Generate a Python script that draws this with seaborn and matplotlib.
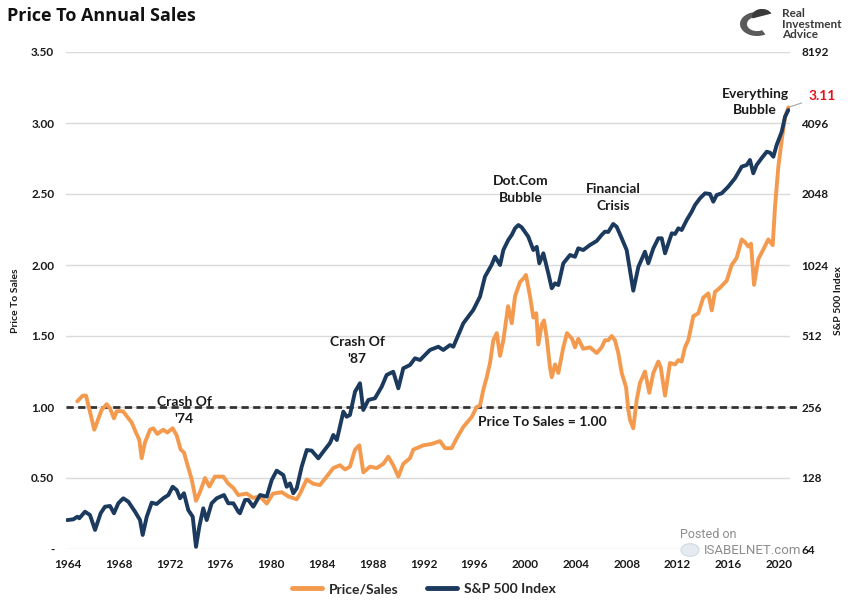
import matplotlib
matplotlib.use("Agg")
import matplotlib.pyplot as plt
import seaborn as sns
import pandas as pd
from matplotlib.lines import Line2D
from matplotlib.patches import Circle, Wedge

# ---------------- data ----------------
ps_years = [1964.73, 1965.16, 1965.42, 1966.07, 1966.65, 1967.05, 1967.31, 1967.62, 1967.83, 1968.33,
            1969.02, 1969.35, 1969.61, 1969.80, 1970.06, 1970.46, 1970.72, 1971.03, 1971.50, 1971.82,
            1972.24, 1972.56, 1972.87, 1973.13, 1973.35, 1973.74, 1974.08, 1974.39, 1974.79, 1975.13,
            1975.57, 1976.23, 1976.62, 1977.02, 1977.41, 1978.07, 1978.57, 1979.12, 1979.65, 1980.14,
            1980.83, 1981.35, 1982.01, 1982.27, 1982.80, 1983.29, 1983.84, 1984.37, 1984.89, 1985.42,
            1985.81, 1986.20, 1986.60, 1986.94, 1987.25, 1987.78, 1988.31, 1988.83, 1989.22, 1989.61,
            1990.01, 1990.40, 1990.93, 1991.19, 1991.98, 1992.64, 1993.29, 1993.69, 1994.21, 1994.61,
            1995.13, 1995.79, 1996.18, 1996.44, 1996.70, 1996.97, 1997.23, 1997.49, 1997.76, 1998.02,
            1998.28, 1998.65, 1998.94, 1999.20, 1999.59, 1999.91, 2000.06, 2000.38, 2000.64, 2000.87,
            2001.03, 2001.30, 2001.48, 2001.69, 2001.95, 2002.09, 2002.35, 2002.61, 2003.00, 2003.29,
            2003.69, 2003.92, 2004.18, 2004.57, 2005.10, 2005.63, 2006.02, 2006.28, 2006.54, 2006.81,
            2007.07, 2007.33, 2007.60, 2007.94, 2008.12, 2008.25, 2008.51, 2008.78, 2009.04, 2009.43,
            2009.77, 2010.09, 2010.48, 2010.67, 2011.01, 2011.40, 2011.80, 2012.06, 2012.32, 2012.58,
            2012.84, 2013.24, 2013.63, 2014.02, 2014.42, 2014.69, 2014.94, 2015.34, 2015.87, 2016.26,
            2016.65, 2017.05, 2017.31, 2017.57, 2017.78, 2018.02, 2018.35, 2018.75, 2019.14, 2019.49,
            2019.67, 2019.93, 2020.20, 2020.46, 2020.72]
ps_values = [1.04, 1.08, 1.08, 0.84, 0.98, 1.02, 0.99, 0.92, 0.97, 0.97,
             0.89, 0.82, 0.77, 0.64, 0.75, 0.84, 0.85, 0.81, 0.84, 0.82,
             0.85, 0.80, 0.70, 0.68, 0.61, 0.49, 0.34, 0.40, 0.50, 0.44,
             0.51, 0.51, 0.46, 0.43, 0.38, 0.39, 0.36, 0.37, 0.32, 0.39,
             0.40, 0.37, 0.35, 0.39, 0.49, 0.46, 0.45, 0.51, 0.57, 0.59,
             0.56, 0.58, 0.70, 0.73, 0.54, 0.58, 0.57, 0.60, 0.65, 0.59,
             0.51, 0.60, 0.64, 0.70, 0.73, 0.74, 0.76, 0.71, 0.71, 0.78,
             0.86, 0.93, 1.00, 1.01, 1.12, 1.21, 1.31, 1.47, 1.52, 1.36,
             1.47, 1.71, 1.59, 1.78, 1.88, 1.91, 1.93, 1.78, 1.63, 1.66,
             1.44, 1.58, 1.61, 1.49, 1.28, 1.21, 1.30, 1.24, 1.42, 1.52,
             1.48, 1.42, 1.48, 1.41, 1.42, 1.38, 1.42, 1.47, 1.47, 1.50,
             1.47, 1.38, 1.24, 1.14, 0.98, 0.91, 0.85, 1.05, 1.17, 1.25,
             1.10, 1.24, 1.32, 1.28, 1.08, 1.31, 1.30, 1.33, 1.32, 1.42,
             1.47, 1.64, 1.66, 1.77, 1.80, 1.68, 1.81, 1.84, 1.89, 2.00,
             2.05, 2.18, 2.16, 2.13, 2.15, 1.86, 2.04, 2.11, 2.18, 2.14,
             2.41, 2.69, 2.88, 3.04, 3.11]

spx_years = [1963.94, 1964.42, 1964.73, 1964.89, 1965.34, 1965.73, 1966.13, 1966.57, 1966.91, 1967.31,
             1967.62, 1967.96, 1968.35, 1968.75, 1969.28, 1969.67, 1969.88, 1970.20, 1970.59, 1970.98,
             1971.50, 1971.90, 1972.24, 1972.56, 1972.82, 1973.13, 1973.47, 1973.82, 1974.08, 1974.34,
             1974.65, 1974.92, 1975.31, 1975.71, 1976.28, 1976.62, 1977.02, 1977.41, 1977.54, 1977.94,
             1978.20, 1978.59, 1979.12, 1979.65, 1980.04, 1980.43, 1980.95, 1981.22, 1981.48, 1981.74,
             1982.01, 1982.40, 1982.80, 1983.19, 1983.71, 1984.10, 1984.63, 1984.89, 1985.17, 1985.68,
             1985.94, 1986.20, 1986.60, 1986.99, 1987.25, 1987.65, 1988.17, 1988.70, 1989.09, 1989.61,
             1990.01, 1990.40, 1990.93, 1991.32, 1991.72, 1992.50, 1993.16, 1993.55, 1994.08, 1994.34,
             1994.73, 1995.13, 1995.91, 1996.44, 1996.83, 1997.35, 1997.62, 1998.02, 1998.28, 1998.67,
             1998.94, 1999.20, 1999.46, 1999.72, 2000.24, 2000.64, 2000.91, 2001.11, 2001.43, 2001.82,
             2002.09, 2002.35, 2002.61, 2003.00, 2003.53, 2003.92, 2004.18, 2004.57, 2005.10, 2005.63,
             2006.02, 2006.28, 2006.54, 2006.93, 2007.20, 2007.60, 2007.99, 2008.25, 2008.51, 2008.91,
             2009.43, 2009.69, 2010.09, 2010.48, 2010.75, 2011.01, 2011.54, 2011.80, 2012.06, 2012.32,
             2012.72, 2013.11, 2013.37, 2013.76, 2014.16, 2014.55, 2014.81, 2015.08, 2015.47, 2015.99,
             2016.52, 2017.05, 2017.44, 2017.70, 2017.96, 2018.22, 2018.61, 2019.02, 2019.28, 2019.54,
             2019.80, 2020.20, 2020.46, 2020.72]
spx_values = [84.9, 85.5, 87.7, 86.4, 92.1, 89.2, 77.1, 90.7, 96.7, 97.4,
              90.7, 100.0, 105.0, 101.6, 92.1, 84.9, 73.4, 87.7, 100.6, 99.3,
              105.0, 108.4, 117.5, 113.8, 105.0, 110.3, 93.6, 87.7, 65.4, 79.6,
              95.2, 84.9, 100.0, 105.0, 108.4, 100.0, 100.0, 92.1, 90.7, 103.3,
              103.3, 96.7, 108.4, 106.7, 125.5, 137.5, 131.8, 117.5, 121.5, 110.3,
              115.8, 142.9, 168.2, 167.2, 155.1, 165.5, 180.1, 194.8, 185.5, 244.6,
              232.8, 236.8, 297.2, 322.8, 248.7, 274.2, 278.8, 312.1, 350.0, 361.2,
              307.2, 373.5, 385.8, 411.9, 405.0, 446.7, 461.1, 446.7, 468.7, 461.1,
              517.0, 580.1, 660.0, 751.6, 913.4, 1024, 1110, 1024, 1185, 1308,
              1373, 1465, 1513, 1480, 1351, 1185, 1222, 1041, 1148, 944,
              816, 856, 842, 1041, 1129, 1110, 1205, 1185, 1245, 1295,
              1373, 1418, 1414, 1528, 1488, 1329, 1185, 975, 797, 1005,
              1166, 1041, 1205, 1329, 1329, 1148, 1395, 1387, 1465, 1441,
              1589, 1723, 1839, 1963, 2062, 2048, 1900, 2028, 2062, 2200,
              2388, 2675, 2718, 2854, 2507, 2718, 2902, 3095, 3065, 2947,
              3305, 3762, 4358, 4649]

x_ticks = list(range(1964, 2021, 4))
left_ticks = [0, 0.5, 1.0, 1.5, 2.0, 2.5, 3.0, 3.5]
left_tick_labels = ["-", "0.50", "1.00", "1.50", "2.00", "2.50", "3.00", "3.50"]
right_ticks = [64, 128, 256, 512, 1024, 2048, 4096, 8192]

ps_df = pd.DataFrame({"year": ps_years, "value": ps_values})
spx_df = pd.DataFrame({"year": spx_years, "value": spx_values})

# ---------------- style ----------------
sns.set_theme(style="white")
plt.rcParams["font.family"] = ["Lato", "DejaVu Sans"]

ORANGE = "#F39A4F"
NAVY = "#1B3A5E"
TXT = "#1a1a1a"

W, H = 848, 600
fig = plt.figure(figsize=(W / 100, H / 100), dpi=100)
fig.patch.set_facecolor("white")

L, R, T, B = 66, 790, 52, 549
ax = fig.add_axes([L / W, 1 - B / H, (R - L) / W, (B - T) / H])
ax2 = ax.twinx()

sns.lineplot(data=ps_df, x="year", y="value", ax=ax, color=ORANGE, lw=2.8,
             estimator=None, sort=False, legend=False)
sns.lineplot(data=spx_df, x="year", y="value", ax=ax2, color=NAVY, lw=2.8,
             estimator=None, sort=False, legend=False)

xmin = 1964 - 2 / 12.7
xmax = 1964 + (R - 68) / 12.7
ax.set_xlim(xmin, xmax)
ax.set_ylim(0, 3.5)
ax2.set_yscale("log", base=2)
ax2.set_ylim(64, 8192)

ax.set_yticks(left_ticks)
ax.set_yticklabels(left_tick_labels)
ax2.set_yticks(right_ticks)
ax2.set_yticklabels([str(v) for v in right_ticks])
ax2.minorticks_off()
ax.set_xticks(x_ticks)
ax.set_xticklabels([str(v) for v in x_ticks])

ax.grid(axis="y", color="#D9D9D9", lw=1.0)
ax.grid(axis="x", visible=False)
ax2.grid(False)
for a in (ax, ax2):
    for s in a.spines.values():
        s.set_visible(False)
    a.set_facecolor("none")

ax.tick_params(axis="y", length=0, pad=8.5, labelsize=8.5, labelcolor=TXT)
ax.tick_params(axis="x", length=0, pad=7, labelsize=8.5, labelcolor=TXT)
ax2.tick_params(axis="y", length=0, pad=8, labelsize=8.5, labelcolor=TXT)
for lab in ax.get_yticklabels() + ax.get_xticklabels() + ax2.get_yticklabels():
    lab.set_fontweight("bold")

ax.set_xlabel("")
ax.set_ylabel("Price To Sales", fontsize=7.5, fontweight="bold", color=TXT)
ax.yaxis.set_label_coords((20 - L) / (R - L), 0.5)
ax2.set_ylabel("S&P 500 Index", fontsize=7.5, fontweight="bold", color=TXT, rotation=90)
ax2.yaxis.set_label_coords((834 - L) / (R - L), 0.5)

# dashed reference line
ax.axhline(1.0, xmin=0, xmax=(797 - L) / (R - L), color="#333333", lw=2.0,
           ls=(0, (2.6, 1.6)), clip_on=False, zorder=1)

# annotations
def yr(px):
    return 1964 + (px - 68) / 12.7

def val(py):
    return (549 - py) / 142

ann_kw = dict(ha="center", va="center", fontsize=10, fontweight="bold", color=TXT,
              linespacing=1.42, zorder=5)
ax.text(yr(184), val(410.5), "Crash Of\n'74", **ann_kw)
ax.text(yr(357), val(350.5), "Crash Of\n'87", **ann_kw)
ax.text(yr(521), val(189.5), "Dot.Com\nBubble", **ann_kw)
ax.text(yr(613), val(197.5), "Financial\nCrisis", **ann_kw)
ax.text(yr(755), val(102), "Everything\nBubble", **ann_kw)
ax.text(yr(542), val(422), "Price To Sales = 1.00", **ann_kw)

ax.annotate("3.11", xy=(ps_years[-1], ps_values[-1]), xycoords="data",
            xytext=(809, H - 96), textcoords="figure pixels",
            ha="left", va="center", fontsize=10, fontweight="bold", color="#E8101A",
            arrowprops=dict(arrowstyle="-", color="#A6A6A6", lw=0.8,
                            shrinkA=3, shrinkB=1))

# title
fig.text(7 / W, 1 - 16 / H, "Price To Annual Sales", fontsize=13, fontweight="bold",
         color="#111111", ha="left", va="center", family=["Open Sans", "DejaVu Sans"])

# logo (simple mark + text)
fig.patches.append(Wedge((757 / W, 1 - 24 / H), 17 / W, 95, 300, width=7 / W,
                         transform=fig.transFigure, facecolor="#5a5a5a", edgecolor="none"))
fig.patches.append(Wedge((762 / W, 1 - 16 / H), 10 / W, 20, 200,
                         transform=fig.transFigure, facecolor="#3a3a3a", edgecolor="none"))
fig.text(782 / W, 1 - 24 / H, "Real\nInvestment\nAdvice", fontsize=8.5, fontweight="bold",
         color="#3a3a3a", ha="left", va="center", linespacing=0.95)

# watermark
fig.patches.append(Circle((690 / W, 1 - 550 / H), 9 / W, transform=fig.transFigure,
                          facecolor="#dfe7ee", edgecolor="#c8d3dc", lw=0.8, alpha=0.8))
fig.text(680 / W, 1 - 535 / H, "Posted on", fontsize=9, color="#8c8c8c", ha="left", va="center",
         family=["Roboto", "DejaVu Sans"])
fig.text(704 / W, 1 - 550 / H, "ISABELNET.com", fontsize=9.5, color="#8c8c8c", ha="left",
         va="center", family=["Roboto", "DejaVu Sans"])

# legend
handles = [Line2D([0], [0], color=ORANGE, lw=3.5),
           Line2D([0], [0], color=NAVY, lw=3.5)]
fig.legend(handles, ["Price/Sales", "S&P 500 Index"], loc="center",
           bbox_to_anchor=(0.5, 1 - 589 / H), ncol=2, frameon=False,
           prop={"size": 10, "weight": "bold"}, handlelength=2.2,
           handletextpad=0.5, columnspacing=2.0)

fig.savefig("out.png", dpi=100, facecolor="white")
